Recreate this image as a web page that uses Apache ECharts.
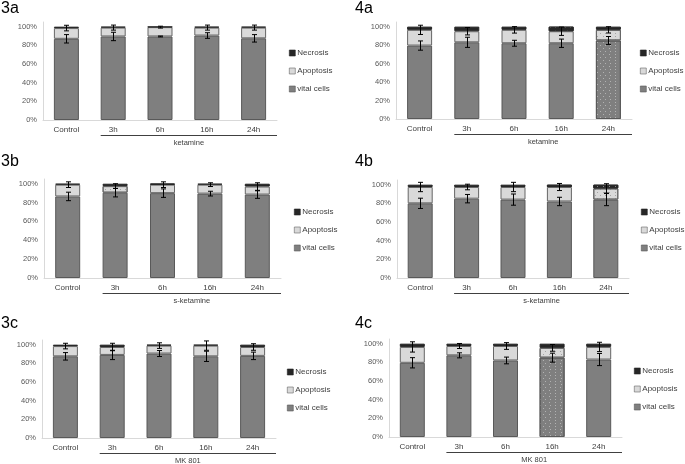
<!DOCTYPE html>
<html>
<head>
<meta charset="utf-8">
<script src="https://cdn.jsdelivr.net/npm/echarts@6/dist/echarts.min.js"></script>
<style>
  html, body { margin: 0; padding: 0; background: #fff; }
  #main { width: 685px; height: 464px; }
</style>
</head>
<body>
<div id="main"></div>
<script>
// categories
var categories = ['Control', '3h', '6h', '16h', '24h'];

// 3a ketamine
var vital_3a = [87, 89.5, 89.5, 90.5, 87.5];
var apop_3a = [11.5, 9.5, 10, 8.5, 11.5];
var necr_3a = [1.5, 1, 0.5, 1, 1];
var vitalErr_3a = [4.5, 4.5, 0.5, 3, 4];
var apopErr_3a = [3, 2.7, 1, 2.7, 2.7];

// 4a ketamine
var vital_4a = [79.5, 83, 82, 82, 85];
var apop_4a = [17, 12, 14.5, 13, 11.5];
var necr_4a = [3.5, 5, 3.5, 5, 3.5];
var vitalErr_4a = [5, 5.5, 3.2, 4.5, 4.3];
var apopErr_4a = [5, 4, 3.5, 4.5, 3.4];

// 3b s-ketamine
var vital_3b = [86.5, 90.5, 90, 89.5, 88.5];
var apop_3b = [12.5, 7, 9, 9.5, 8.5];
var necr_3b = [1, 2.5, 1, 1, 3];
var vitalErr_3b = [4.5, 4.5, 4.5, 2.5, 4];
var apopErr_3b = [3, 2.5, 3, 2, 4];

// 4b s-ketamine
var vital_4b = [80, 85, 84, 82, 84];
var apop_4b = [17.5, 12.5, 13.5, 15.5, 12];
var necr_4b = [2.5, 2.5, 2.5, 2.5, 4];
var vitalErr_4b = [5.5, 4.5, 6, 4.5, 6.5];
var apopErr_4b = [5, 3, 5, 3.8, 5];

// 3c MK 801
var vital_3c = [87.5, 89, 90.5, 87.5, 88];
var apop_3c = [11, 8.5, 8.5, 11.5, 9.5];
var necr_3c = [1.5, 2.5, 1, 1, 2.5];
var vitalErr_3c = [4, 5, 3.2, 5.5, 4];
var apopErr_3c = [3, 4, 3, 5, 3.5];

// 4c MK 801
var vital_4c = [79.5, 87.5, 82, 85, 83];
var apop_4c = [17, 10, 15.5, 10.5, 13.5];
var necr_4c = [3.5, 2.5, 2.5, 4.5, 3.5];
var vitalErr_4c = [5.5, 2.7, 3.6, 4.8, 6.5];
var apopErr_4c = [5.5, 2.7, 3.6, 3.6, 5];

// dotted (significant) segments: 1 = dotted
var dotVital_4a = [0, 0, 0, 0, 1];
var dotApop_4a = [0, 0, 0, 0, 1];
var dotNecr_4a = [0, 0, 0, 1, 0];
var dotApop_3b = [0, 1, 0, 0, 0];
var dotNecr_3b = [0, 0, 1, 0, 0];
var dotApop_4b = [0, 0, 0, 0, 1];
var dotNecr_4b = [0, 0, 0, 1, 1];
var dotVital_4c = [0, 0, 0, 1, 0];
var dotApop_4c = [0, 0, 0, 1, 0];

var yTicks = [0, 20, 40, 60, 80, 100];
var none = [0, 0, 0, 0, 0];

var FONT = 'Liberation Sans';
var BAR_W = 25;

var panels = [
  { id: '3a', group: 'ketamine', vital: vital_3a, apop: apop_3a, necr: necr_3a, vErr: vitalErr_3a, aErr: apopErr_3a,
    dv: none, da: none, dn: none,
    grid: { left: 43, top: 22, width: 234, height: 98 }, legend: [289, 48], title: [1, 1] },
  { id: '4a', group: 'ketamine', vital: vital_4a, apop: apop_4a, necr: necr_4a, vErr: vitalErr_4a, aErr: apopErr_4a,
    dv: dotVital_4a, da: dotApop_4a, dn: dotNecr_4a,
    grid: { left: 396, top: 22, width: 236, height: 97 }, legend: [640, 48], title: [355, 1] },
  { id: '3b', group: 's-ketamine', vital: vital_3b, apop: apop_3b, necr: necr_3b, vErr: vitalErr_3b, aErr: apopErr_3b,
    dv: none, da: dotApop_3b, dn: dotNecr_3b,
    grid: { left: 44, top: 179, width: 237, height: 99 }, legend: [294, 207], title: [1, 154] },
  { id: '4b', group: 's-ketamine', vital: vital_4b, apop: apop_4b, necr: necr_4b, vErr: vitalErr_4b, aErr: apopErr_4b,
    dv: none, da: dotApop_4b, dn: dotNecr_4b,
    grid: { left: 397, top: 180, width: 232, height: 98 }, legend: [641, 207], title: [355, 154] },
  { id: '3c', group: 'MK 801', vital: vital_3c, apop: apop_3c, necr: necr_3c, vErr: vitalErr_3c, aErr: apopErr_3c,
    dv: none, da: none, dn: none,
    grid: { left: 42, top: 340, width: 234, height: 98 }, legend: [287, 367], title: [1, 316] },
  { id: '4c', group: 'MK 801', vital: vital_4c, apop: apop_4c, necr: necr_4c, vErr: vitalErr_4c, aErr: apopErr_4c,
    dv: dotVital_4c, da: dotApop_4c, dn: none,
    grid: { left: 389, top: 339, width: 233, height: 98 }, legend: [634, 366], title: [355, 316] }
];

// fine staggered dot pattern
function dots(color) {
  return {
    symbol: 'rect', symbolSize: 1,
    dashArrayX: [[1, 4], [0, 2.5, 1, 1.5]],
    dashArrayY: [1, 2],
    color: color
  };
}
var decalVital = dots('rgba(255,255,255,0.4)');
var decalApop = dots('rgba(120,120,120,0.55)');
var decalNecr = dots('rgba(200,200,200,0.6)');

function items(values, flags, decal) {
  return values.map(function (v, i) {
    return flags[i] ? { value: v, itemStyle: { decal: decal } } : v;
  });
}

var option = {
  animation: false,
  backgroundColor: '#fff',
  title: [], grid: [], xAxis: [], yAxis: [], legend: [], series: []
};

panels.forEach(function (p, i) {
  option.title.push({
    text: p.id, left: p.title[0], top: p.title[1], padding: 0,
    textStyle: { fontSize: 16, fontWeight: 'normal', color: '#000', fontFamily: FONT }
  });
  option.grid.push({ left: p.grid.left, top: p.grid.top, width: p.grid.width, height: p.grid.height, outerBoundsMode: 'none' });
  option.xAxis.push({
    type: 'category', gridIndex: i, data: categories,
    axisLine: { lineStyle: { color: '#d9d9d9' } },
    axisTick: { show: false },
    axisLabel: { fontSize: 8, color: '#404040', fontFamily: FONT, margin: 6 }
  });
  option.yAxis.push({
    type: 'value', gridIndex: i, min: 0, max: 105, interval: 20,
    axisLine: { show: true, lineStyle: { color: '#d9d9d9' } },
    axisTick: { show: false },
    splitLine: { show: false },
    axisLabel: {
      fontSize: 7.5, color: '#595959', fontFamily: FONT, margin: 6,
      formatter: function (v) { return yTicks.indexOf(v) >= 0 ? v + '%' : ''; }
    }
  });
  option.legend.push({
    orient: 'vertical', left: p.legend[0], top: p.legend[1], padding: 0,
    itemWidth: 6, itemHeight: 6, itemGap: 8, icon: 'rect',
    data: ['Necrosis', 'Apoptosis', 'vital cells'],
    itemStyle: { borderWidth: 0.6 },
    textStyle: { fontSize: 8, color: '#404040', fontFamily: FONT, lineHeight: 10, padding: [0, 0, 0, -3] },
    selectedMode: false
  });

  var base = { type: 'bar', xAxisIndex: i, yAxisIndex: i, stack: 'p' + i, barWidth: BAR_W, silent: true };
  option.series.push(Object.assign({}, base, {
    name: 'vital cells', data: items(p.vital, p.dv, decalVital),
    itemStyle: { color: '#7f7f7f', borderColor: '#595959', borderWidth: 1 }
  }));
  option.series.push(Object.assign({}, base, {
    name: 'Apoptosis', data: items(p.apop, p.da, decalApop),
    itemStyle: { color: '#d9d9d9', borderColor: '#666666', borderWidth: 1 }
  }));
  option.series.push(Object.assign({}, base, {
    name: 'Necrosis', data: items(p.necr, p.dn, decalNecr),
    itemStyle: { color: '#262626', borderColor: '#262626', borderWidth: 1 }
  }));

  // error bars at top of vital and top of apoptosis
  var errData = [];
  categories.forEach(function (c, k) {
    errData.push([k, p.vital[k], p.vErr[k]]);
    errData.push([k, p.vital[k] + p.apop[k], p.aErr[k]]);
  });
  option.series.push({
    type: 'custom', name: 'err', xAxisIndex: i, yAxisIndex: i, silent: true, z: 5, clip: false,
    data: errData,
    encode: { x: 0, y: 1 },
    renderItem: function (params, api) {
      var k = api.value(0), c = api.value(1), e = api.value(2);
      var hi = api.coord([k, c + e]);
      var lo = api.coord([k, c - e]);
      var x = Math.round(hi[0]) + 0.5;
      var st = { stroke: '#000', lineWidth: 1 };
      return {
        type: 'group', children: [
          { type: 'line', shape: { x1: x, y1: hi[1], x2: x, y2: lo[1] }, style: st },
          { type: 'line', shape: { x1: x - 2.5, y1: hi[1], x2: x + 2.5, y2: hi[1] }, style: st },
          { type: 'line', shape: { x1: x - 2.5, y1: lo[1], x2: x + 2.5, y2: lo[1] }, style: st }
        ]
      };
    }
  });

  // treatment group bracket under 3h..24h
  option.series.push({
    type: 'custom', name: 'group', xAxisIndex: i, yAxisIndex: i, silent: true, clip: false,
    data: [[1, 0]],
    renderItem: function (params, api) {
      var cs = params.coordSys;
      var x1 = api.coord([api.value(0), 0])[0] - BAR_W / 2;
      var x2 = cs.x + cs.width;
      var y = Math.round(cs.y + cs.height + 15) + 0.5;
      return {
        type: 'group', children: [
          { type: 'line', shape: { x1: x1, y1: y, x2: x2, y2: y }, style: { stroke: '#404040', lineWidth: 1 } },
          { type: 'text', style: { text: p.group, x: (x1 + x2) / 2, y: y + 7, align: 'center', verticalAlign: 'middle',
            fontSize: 7.5, fill: '#404040', fontFamily: FONT } }
        ]
      };
    }
  });
});

var chart = echarts.init(document.getElementById('main'));
chart.setOption(option);
</script>
</body>
</html>
